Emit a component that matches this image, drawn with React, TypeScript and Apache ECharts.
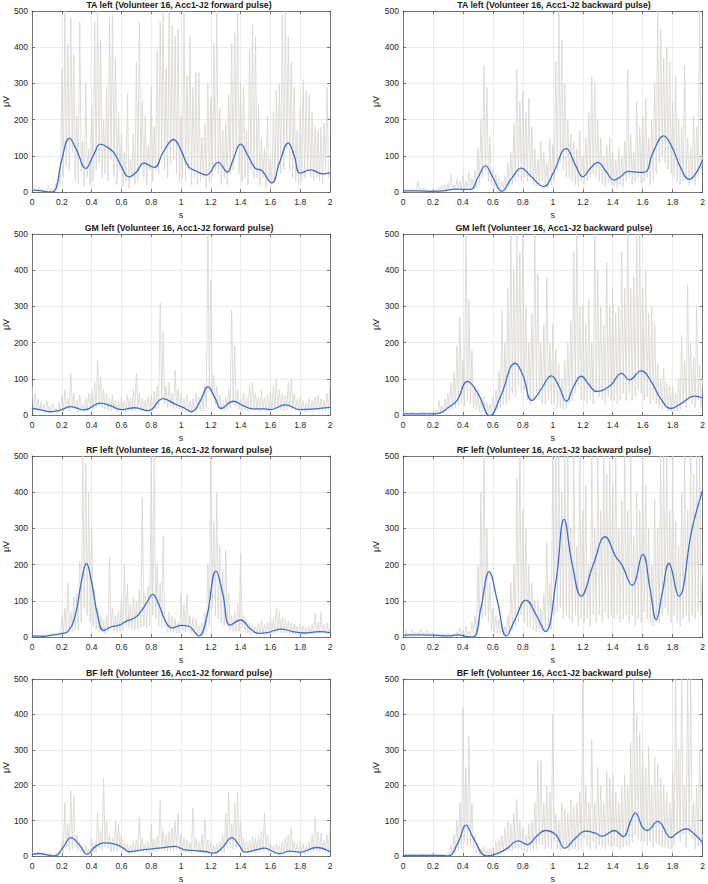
import React, { useEffect, useRef } from 'react';
import * as echarts from 'echarts';

// time base for the raw (rectified) EMG traces, seconds
const timeAxis: number[] = Array.from({ length: 201 }, (_, i) => Math.round(i) / 100);

const panelTitles = [
  'TA left (Volunteer 16, Acc1-J2 forward pulse)',
  'TA left (Volunteer 16, Acc1-J2 backward pulse)',
  'GM left (Volunteer 16, Acc1-J2 forward pulse)',
  'GM left (Volunteer 16, Acc1-J2 backward pulse)',
  'RF left (Volunteer 16, Acc1-J2 forward pulse)',
  'RF left (Volunteer 16, Acc1-J2 backward pulse)',
  'BF left (Volunteer 16, Acc1-J2 forward pulse)',
  'BF left (Volunteer 16, Acc1-J2 backward pulse)',
];

const xTicks = [0, 0.2, 0.4, 0.6, 0.8, 1, 1.2, 1.4, 1.6, 1.8, 2];
const yTicks = [0, 100, 200, 300, 400, 500];

// raw EMG (grey), one value per 0.01 s
const rawTAfwd = [
  4,12,3,8,2,14,4,10,3,6, 2,16,4,9,2,8,25,5,55,18,
  340,40,500,70,410,60,480,110,380,30, 210,25,470,55,140,15,300,40,120,20,
  240,30,470,60,500,80,420,40,200,50, 290,30,480,90,490,40,370,20,220,60,
  160,15,110,30,270,10,90,40,160,20, 360,30,470,70,250,40,210,20,130,60,
  290,30,180,60,390,50,470,110,500,60, 340,40,500,80,460,90,430,50,450,30,
  210,40,500,30,320,60,430,20,290,40, 330,20,330,30,150,40,190,10,300,30,
  260,40,410,60,500,50,230,20,170,40, 190,20,270,50,410,60,440,110,500,50,
  300,30,290,40,170,20,390,60,460,40, 430,40,240,20,150,40,120,10,210,40,
  90,20,220,30,280,60,300,50,490,60, 500,120,430,60,360,40,290,30,170,20,
  230,30,310,40,280,60,270,40,220,30, 180,40,170,30,180,20,190,60,290,40,
  60,
];
const rawTAbwd = [
  3,8,2,6,3,10,2,7,4,5, 30,4,8,3,12,2,9,4,6,2,
  10,3,7,2,12,4,18,3,20,5, 25,6,48,8,20,4,35,10,30,5,
  45,8,30,10,55,6,40,12,60,10, 120,20,200,40,350,60,290,30,150,20,
  60,10,50,8,40,5,30,10,45,8, 80,15,110,20,190,30,340,40,250,30,
  280,40,220,30,260,40,180,20,120,15, 90,20,140,30,110,15,80,10,150,20,
  130,30,360,60,500,80,420,60,300,40, 200,40,160,30,140,20,120,15,170,30,
  100,20,150,30,220,40,320,50,300,40, 200,30,150,20,100,15,130,25,150,20,
  110,15,90,10,120,20,100,15,140,30, 340,40,160,20,110,30,250,40,180,25,
  210,30,260,40,150,20,200,30,300,50, 500,80,450,100,370,80,400,60,360,50,
  250,40,320,30,200,20,180,30,350,40, 150,20,120,30,210,20,180,40,500,60,
  100,
];
const rawGMfwd = [
  80,10,60,20,45,8,35,15,30,5, 40,10,25,5,30,12,20,6,35,10,
  55,12,70,18,45,10,115,20,60,15, 40,8,55,15,30,10,45,12,60,20,
  70,15,90,20,150,25,105,20,70,15, 60,12,45,10,55,15,40,8,35,10,
  50,12,40,8,55,15,45,10,70,12, 115,18,60,10,45,12,40,8,50,10,
  55,12,65,15,80,20,310,40,230,30, 80,20,90,25,60,15,125,20,70,15,
  60,12,45,10,55,10,40,8,45,12, 60,15,50,12,45,10,85,20,500,80,
  370,60,110,30,80,20,55,15,40,10, 50,15,70,20,290,30,190,25,70,15,
  45,12,60,15,50,10,80,15,90,20, 60,15,50,10,70,15,45,12,55,10,
  65,15,80,20,100,20,70,15,60,12, 55,15,90,20,100,18,60,12,45,10,
  50,12,40,8,35,10,45,12,40,10, 50,15,55,12,45,10,40,12,60,15,
  90,
];
const rawGMbwd = [
  8,3,12,2,6,4,10,3,7,2, 6,3,9,2,12,4,7,3,10,5,
  8,3,14,5,40,8,25,6,45,10, 60,12,90,15,120,20,190,25,270,30,
  150,25,500,40,320,30,180,20,80,15, 60,10,45,8,50,6,35,5,30,8,
  50,10,70,15,120,20,290,30,200,30, 350,40,500,60,400,50,500,80,450,60,
  500,70,300,40,200,30,280,40,500,60, 390,50,200,30,250,30,380,40,200,30,
  250,30,180,20,140,20,100,15,150,20, 200,30,260,40,450,60,500,80,300,40,
  300,40,250,30,320,40,200,30,500,60, 400,50,300,40,250,30,420,50,300,40,
  350,40,280,30,300,40,450,60,350,40, 500,60,350,40,380,50,500,70,500,60,
  350,40,400,50,280,30,300,40,250,30, 140,20,100,15,130,20,90,12,80,10,
  80,12,60,10,100,15,220,30,150,20, 360,40,200,30,160,20,300,40,140,20,
  100,
];
const rawRFfwd = [
  5,2,4,1,6,2,5,3,4,2, 6,2,5,3,8,2,6,3,10,4,
  60,10,80,15,150,20,70,15,110,20, 120,20,210,40,500,80,480,60,400,40,
  300,30,130,20,80,15,60,12,45,10, 60,15,220,30,80,15,60,12,70,15,
  110,20,200,30,145,25,90,20,110,20, 100,20,130,25,385,30,120,25,140,30,
  500,60,500,50,200,30,150,25,280,30, 50,12,70,15,60,12,50,10,40,10,
  120,20,90,15,120,20,60,12,55,10, 50,8,30,5,40,10,70,15,200,30,
  500,80,320,60,400,50,250,40,180,30, 240,30,120,20,60,15,70,15,90,15,
  230,25,60,12,50,10,40,8,35,8, 30,6,40,8,45,10,35,8,40,8,
  60,10,50,12,80,15,70,12,55,10, 50,10,45,8,40,8,35,6,30,6,
  35,8,30,6,25,5,30,8,35,6, 65,10,40,8,70,12,35,8,40,8,
  30,
];
const rawRFbwd = [
  12,3,18,5,10,4,20,6,14,3, 15,5,22,4,12,3,18,5,10,3,
  14,4,10,3,8,2,12,3,7,2, 9,3,6,2,10,3,14,4,25,5,
  20,4,30,6,15,3,40,8,60,10, 200,30,400,50,500,60,300,40,150,20,
  80,15,60,10,50,8,40,6,30,8, 60,10,150,20,200,30,440,40,500,60,
  350,40,300,30,200,25,150,20,100,15, 100,15,80,10,120,20,260,30,150,20,
  500,60,500,70,500,80,400,50,500,60, 500,50,300,40,500,60,250,30,500,50,
  350,40,420,50,200,30,500,60,300,40, 500,60,350,40,500,70,450,50,500,60,
  420,50,500,60,300,40,380,50,500,60, 350,40,500,60,280,30,400,50,350,40,
  500,70,420,50,300,40,200,30,380,40, 300,40,500,60,500,80,500,60,350,40,
  500,60,320,40,250,30,400,50,500,60, 350,40,500,60,450,50,500,70,500,60,
  200,
];
const rawBFfwd = [
  10,3,8,2,12,4,6,3,9,2, 5,2,8,3,6,2,10,4,12,5,
  40,10,150,20,90,15,185,20,170,25, 60,15,40,10,25,8,30,10,20,8,
  50,12,40,10,125,20,70,15,220,25, 100,20,60,12,50,15,100,15,90,20,
  60,12,40,10,35,8,30,10,40,8, 45,10,110,15,50,12,35,10,40,8,
  90,15,50,12,55,15,160,20,70,15, 60,12,70,15,80,15,100,20,120,15,
  60,12,50,10,45,10,40,8,135,15, 50,10,40,8,60,10,105,15,45,8,
  40,8,30,6,35,8,40,10,60,10, 120,20,180,30,90,20,150,25,180,25,
  100,15,50,10,40,8,45,10,55,10, 50,10,60,12,70,15,120,20,60,12,
  40,8,30,6,35,8,30,6,40,8, 50,10,60,10,80,12,40,8,35,6,
  40,8,35,6,30,8,40,10,60,12, 110,15,70,12,65,12,45,10,60,10,
  85,
];
const rawBFbwd = [
  4,1,6,2,3,1,8,2,5,1, 4,1,7,2,5,1,3,1,6,2,
  4,1,5,2,3,1,6,2,4,1, 8,2,30,5,60,10,100,15,150,20,
  420,40,250,30,340,30,150,20,60,10, 30,5,20,4,25,5,15,4,20,5,
  25,5,40,8,50,10,60,12,80,15, 100,15,90,15,120,20,160,20,100,15,
  80,15,60,12,90,15,100,15,150,20, 270,30,270,30,150,20,200,25,180,20,
  400,40,120,20,100,15,150,20,130,20, 120,15,160,20,140,20,150,20,180,25,
  500,50,200,30,150,20,330,40,150,20, 250,30,200,25,150,20,240,30,220,25,
  230,30,180,25,150,20,200,25,230,30, 200,30,320,40,500,60,400,50,350,40,
  300,40,250,30,310,40,200,25,280,35, 260,30,220,25,200,25,180,20,150,20,
  240,30,500,60,300,40,500,60,200,25, 500,60,500,50,150,20,200,25,300,30,
  60,
];

// smoothed envelopes (blue), [time s, µV]
const envTAfwd = [
  [0,5],[0.05,4],[0.09,1],[0.12,0],[0.15,2],[0.2,90],[0.25,148],[0.3,115],[0.36,65],[0.41,100],
  [0.46,132],[0.5,125],[0.55,108],[0.6,70],[0.65,42],[0.7,55],[0.75,80],[0.82,68],[0.88,110],[0.95,145],
  [1.0,115],[1.05,70],[1.1,58],[1.17,47],[1.25,82],[1.31,55],[1.35,90],[1.4,132],[1.45,100],[1.5,65],
  [1.54,60],[1.61,25],[1.66,80],[1.72,135],[1.76,100],[1.8,52],[1.87,61],[1.95,50],[2.0,53],
];
const envTAbwd = [
  [0,3],[0.1,3],[0.2,2],[0.27,3],[0.35,8],[0.45,7],[0.5,40],[0.55,72],[0.6,40],[0.66,2],
  [0.72,35],[0.79,66],[0.85,45],[0.94,15],[1.0,50],[1.09,120],[1.15,75],[1.2,42],[1.25,65],[1.3,82],
  [1.35,60],[1.41,33],[1.46,45],[1.5,57],[1.55,55],[1.61,54],[1.67,110],[1.74,155],[1.8,120],[1.85,70],
  [1.91,35],[1.96,55],[2.0,90],
];
const envGMfwd = [
  [0,18],[0.05,15],[0.12,9],[0.18,12],[0.26,23],[0.35,14],[0.46,33],[0.53,25],[0.6,15],[0.69,20],
  [0.78,12],[0.88,45],[0.96,30],[1.02,20],[1.07,9],[1.13,40],[1.18,78],[1.23,45],[1.27,18],[1.35,38],
  [1.42,25],[1.48,17],[1.55,17],[1.6,15],[1.7,28],[1.8,15],[1.9,17],[2.0,21],
];
const envGMbwd = [
  [0,3],[0.1,3],[0.2,3],[0.25,6],[0.3,20],[0.36,40],[0.43,93],[0.5,60],[0.58,-2],[0.65,50],
  [0.75,143],[0.8,110],[0.86,40],[0.92,70],[0.99,108],[1.04,80],[1.09,38],[1.14,80],[1.19,107],[1.24,85],
  [1.29,65],[1.38,80],[1.46,115],[1.51,97],[1.59,122],[1.66,90],[1.72,45],[1.79,18],[1.85,30],[1.95,52],
  [2.0,47],
];
const envRFfwd = [
  [0,3],[0.08,2],[0.13,5],[0.2,10],[0.24,15],[0.29,60],[0.33,150],[0.365,203],[0.4,150],[0.44,60],
  [0.48,18],[0.53,28],[0.58,32],[0.64,45],[0.69,53],[0.73,70],[0.77,95],[0.81,118],[0.85,90],[0.9,40],
  [0.94,25],[1.0,32],[1.05,30],[1.12,3],[1.17,50],[1.235,182],[1.28,120],[1.33,33],[1.4,47],[1.46,25],
  [1.52,10],[1.58,12],[1.67,22],[1.75,15],[1.82,11],[1.93,15],[2.0,12],
];
const envRFbwd = [
  [0,5],[0.1,6],[0.25,4],[0.3,3],[0.37,6],[0.42,2],[0.47,0],[0.52,80],[0.575,180],[0.63,100],
  [0.69,3],[0.75,50],[0.82,102],[0.89,60],[0.95,15],[1.02,150],[1.075,325],[1.13,200],[1.19,113],[1.27,200],
  [1.35,277],[1.42,222],[1.46,200],[1.53,143],[1.6,228],[1.65,130],[1.69,48],[1.73,120],[1.775,203],[1.84,113],
  [1.93,300],[2.0,405],
];
const envBFfwd = [
  [0,5],[0.05,7],[0.1,3],[0.15,0],[0.21,25],[0.26,52],[0.32,30],[0.37,5],[0.42,25],[0.48,37],
  [0.56,33],[0.62,20],[0.65,12],[0.75,18],[0.85,22],[0.96,27],[1.02,18],[1.1,15],[1.17,12],[1.22,8],
  [1.28,25],[1.34,52],[1.39,30],[1.43,11],[1.5,17],[1.56,22],[1.62,12],[1.66,6],[1.73,14],[1.8,11],
  [1.91,24],[2.0,12],
];
const envBFbwd = [
  [0,2],[0.1,2],[0.25,2],[0.3,0],[0.37,40],[0.42,87],[0.47,50],[0.56,0],[0.62,5],[0.69,20],
  [0.77,43],[0.83,32],[0.89,55],[0.95,72],[1.02,60],[1.08,22],[1.15,50],[1.22,70],[1.28,65],[1.33,56],
  [1.41,72],[1.47,55],[1.52,100],[1.55,122],[1.6,80],[1.63,72],[1.7,98],[1.79,52],[1.83,65],[1.89,77],
  [1.95,60],[2.0,38],
];

const rawSets = [rawTAfwd, rawTAbwd, rawGMfwd, rawGMbwd, rawRFfwd, rawRFbwd, rawBFfwd, rawBFbwd];
const envSets = [envTAfwd, envTAbwd, envGMfwd, envGMbwd, envRFfwd, envRFbwd, envBFfwd, envBFbwd];

const FONT = "'Liberation Sans', Arial, Helvetica, sans-serif";
const AXIS_COLOR = '#555555';
const GRID_COLOR = '#e2e2e2';
const RAW_COLOR = '#d8d4ce';
const ENV_COLOR = '#3a6fd0';

export default function App() {
  const ref = useRef<HTMLDivElement>(null);

  useEffect(() => {
    if (!ref.current) return;
    const chart = echarts.init(ref.current, undefined, { renderer: 'svg' });

    const rowTops = [11, 234, 456, 679];
    const colLefts = [28, 403];
    const W = 302;
    const H = 181;

    const grid: any[] = [];
    const xAxis: any[] = [];
    const yAxis: any[] = [];
    const series: any[] = [];
    const title: any[] = [];

    for (let i = 0; i < 8; i++) {
      const row = Math.floor(i / 2);
      const col = i % 2;
      const left = colLefts[col];
      const top = rowTops[row];
      grid.push({ left, top, width: W, height: H, containLabel: false });
      title.push({
        text: panelTitles[i],
        left: left + W / 2,
        top: top - 11,
        padding: 0,
        textAlign: 'center',
        textStyle: { fontSize: 8.8, fontWeight: 'bold', color: '#1a1a1a', fontFamily: FONT },
      });
      xAxis.push({
        type: 'value',
        gridIndex: i,
        min: 0,
        max: 2,
        interval: 0.2,
        position: 'bottom',
        name: 's',
        nameLocation: 'middle',
        nameGap: 18,
        nameTextStyle: { fontSize: 9, color: '#262626', fontFamily: FONT },
        axisLine: { show: true, onZero: false, lineStyle: { color: AXIS_COLOR, width: 0.8 } },
        axisTick: { show: true, inside: true, length: 3, lineStyle: { color: AXIS_COLOR, width: 0.8 } },
        axisLabel: {
          fontSize: 8.5,
          color: '#262626',
          margin: 5,
          fontFamily: FONT,
          showMaxLabel: true,
          showMinLabel: true,
          formatter: (v: number) => {
            const t = xTicks.find((k) => Math.abs(k - v) < 1e-6);
            return String(t !== undefined ? t : v);
          },
        },
        splitLine: { show: true, lineStyle: { color: GRID_COLOR, width: 0.7 } },
      });
      xAxis.push({
        type: 'value',
        gridIndex: i,
        min: 0,
        max: 2,
        interval: 0.2,
        position: 'top',
        axisLine: { show: true, onZero: false, lineStyle: { color: AXIS_COLOR, width: 0.8 } },
        axisTick: { show: true, inside: true, length: 3, lineStyle: { color: AXIS_COLOR, width: 0.8 } },
        axisLabel: { show: false },
        splitLine: { show: false },
      });
      yAxis.push({
        type: 'value',
        gridIndex: i,
        min: 0,
        max: 500,
        interval: 100,
        position: 'left',
        name: 'μV',
        nameLocation: 'middle',
        nameGap: 20,
        nameRotate: 90,
        nameTextStyle: { fontSize: 9, color: '#262626', fontFamily: FONT },
        axisLine: { show: true, onZero: false, lineStyle: { color: AXIS_COLOR, width: 0.8 } },
        axisTick: { show: true, inside: true, length: 3, lineStyle: { color: AXIS_COLOR, width: 0.8 } },
        axisLabel: {
          fontSize: 8.5,
          color: '#262626',
          margin: 4,
          fontFamily: FONT,
          formatter: (v: number) => {
            const t = yTicks.find((k) => Math.abs(k - v) < 1e-6);
            return String(t !== undefined ? t : v);
          },
        },
        splitLine: { show: true, lineStyle: { color: GRID_COLOR, width: 0.7 } },
      });
      yAxis.push({
        type: 'value',
        gridIndex: i,
        min: 0,
        max: 500,
        interval: 100,
        position: 'right',
        axisLine: { show: true, onZero: false, lineStyle: { color: AXIS_COLOR, width: 0.8 } },
        axisTick: { show: true, inside: true, length: 3, lineStyle: { color: AXIS_COLOR, width: 0.8 } },
        axisLabel: { show: false },
        splitLine: { show: false },
      });

      const raw = rawSets[i];
      series.push({
        type: 'line',
        xAxisIndex: 2 * i,
        yAxisIndex: 2 * i,
        data: timeAxis.map((t, k) => [t, raw[k]]),
        symbol: 'none',
        silent: true,
        clip: true,
        z: 2,
        lineStyle: { color: RAW_COLOR, width: 0.8 },
      });
      series.push({
        type: 'line',
        xAxisIndex: 2 * i,
        yAxisIndex: 2 * i,
        data: envSets[i],
        symbol: 'none',
        smooth: 0.45,
        silent: true,
        clip: true,
        z: 3,
        lineStyle: { color: ENV_COLOR, width: 1.3 },
      });
    }

    chart.setOption({
      animation: false,
      backgroundColor: '#ffffff',
      textStyle: { fontFamily: FONT },
      title,
      grid,
      xAxis,
      yAxis,
      series,
    });

    return () => {
      chart.dispose();
    };
  }, []);

  return (
    <div
      ref={ref}
      style={{ position: 'absolute', left: 0, top: 0, width: 708, height: 884, background: '#fff' }}
    />
  );
}
